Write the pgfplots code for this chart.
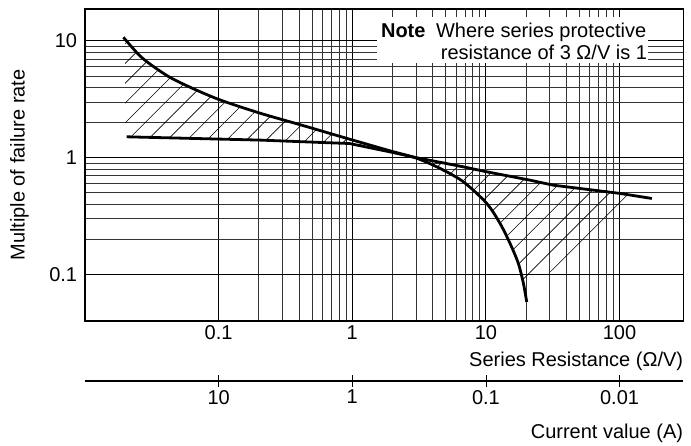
\documentclass[border=0pt]{standalone}
\usepackage{fontspec}
\setmainfont{Liberation Sans}
\usepackage{pgfplots}
\pgfplotsset{compat=1.18}
\usetikzlibrary{patterns.meta}

\begin{document}
\begin{tikzpicture}[font=\fontsize{20}{22.3}\selectfont]
\path (-85pt,-125pt) rectangle (606pt,321pt);
\begin{axis}[
  name=main, at={(0,0)}, anchor=south west,
  scale only axis, width=598.3pt, height=312pt,
  xmode=log, ymode=log,
  xmin=0.01, xmax=300, ymin=0.04, ymax=18.8,
  xtick={0.1,1,10,100}, xticklabels={0.1,1,10,100},
  ytick={0.1,1,10}, yticklabels={0.1,1,10},
  grid=both,
  major grid style={black, line width=1pt},
  minor grid style={black!80, line width=1pt},
  major tick length=0pt, minor tick length=0pt,
  axis line style={line width=1.3pt},
  xticklabel style={inner sep=0pt, anchor=north, yshift=-4.5pt},
  yticklabel style={inner sep=0pt, anchor=east, xshift=-7.7pt},
  xlabel={Series Resistance (Ω/V)},
  xlabel style={at={(axis description cs:1,0)}, anchor=east, inner sep=0pt, yshift=-40pt},
  ylabel={Multiple of failure rate},
  ylabel style={at={(axis description cs:-0.1095,0.5)}, anchor=center, inner sep=0pt},
]
% hatched regions
\addplot[draw=none, pattern={Lines[angle=45, distance=14pt, line width=0.6pt]}, pattern color=black]
  coordinates {(0.02,10.4) (0.0266,7.22) (0.0409,5.07) (0.0611,4.02) (0.1024,3.13) (0.204,2.41)
   (0.407,1.92) (0.910,1.466) (1.91,1.148) (3.04,0.995)
   (1.91,1.124) (0.95,1.325) (0.682,1.343) (0.204,1.417) (0.0205,1.512) (0.02,1.515)} -- cycle;
\addplot[draw=none, pattern={Lines[angle=45, distance=14pt, line width=0.6pt]}, pattern color=black]
  coordinates {(3.04,0.995) (4.54,0.810) (6.79,0.622) (10.15,0.406) (12.77,0.2735) (15.17,0.1844)
   (17.5,0.1242) (19.1,0.0837) (19.65,0.0734) (85.1,0.248) (147,0.462)
   (101,0.495) (32.0,0.582) (21.4,0.643) (10.15,0.758) (6.79,0.836) (3.04,1.0)} -- cycle;
% curve A
\addplot[black, line width=2.8pt, smooth] coordinates {
  (0.0194,10.76) (0.0266,7.22) (0.0409,5.07) (0.0611,4.02) (0.1024,3.13) (0.204,2.41)
  (0.407,1.92) (0.910,1.466) (1.91,1.148) (3.04,0.99) (4.54,0.810) (6.79,0.622)
  (10.15,0.406) (12.77,0.2735) (15.17,0.1844) (17.5,0.1242) (19.1,0.0837) (20.2,0.0582)};
% curve B
\addplot[black, line width=2.8pt] coordinates {
  (0.0205,1.512) (0.204,1.417) (0.682,1.343) (0.95,1.325) (1.91,1.124) (3.04,1.0)
  (6.79,0.836) (10.15,0.758) (21.4,0.643) (32.0,0.582) (101,0.495) (174.5,0.448)};
% note
\fill[white] (rel axis cs:0.4875,0.828) rectangle (rel axis cs:0.941,0.975);
\node[anchor=base west, inner sep=0pt] at (rel axis cs:0.4945,0.9087) {\textbf{Note}};
\node[anchor=base west, inner sep=0pt] at (rel axis cs:0.5865,0.9087) {Where series protective};
\node[anchor=base west, inner sep=0pt] at (rel axis cs:0.5945,0.8372) {resistance of 3 Ω/V is 1};
\end{axis}
\begin{axis}[
  at={(0,-60pt)}, anchor=south west, scale only axis, width=598.3pt, height=10pt,
  xmode=log, xmin=0.01, xmax=300, ymin=0, ymax=1,
  hide y axis, axis x line*=bottom, x axis line style={-, line width=1.3pt},
  xtick={0.1,1,10,100}, xticklabels={10,1,0.1,0.01}, xminorticks=false,
  major tick length=11.4pt, tick align=center, tick style={black, line width=0.8pt},
  xticklabel style={inner sep=0pt, anchor=north, yshift=-3.3pt},
  xlabel={Current value (A)},
  xlabel style={at={(axis description cs:1,0)}, anchor=east, inner sep=0pt, yshift=-52pt},
]
\end{axis}
\end{tikzpicture}
\end{document}
